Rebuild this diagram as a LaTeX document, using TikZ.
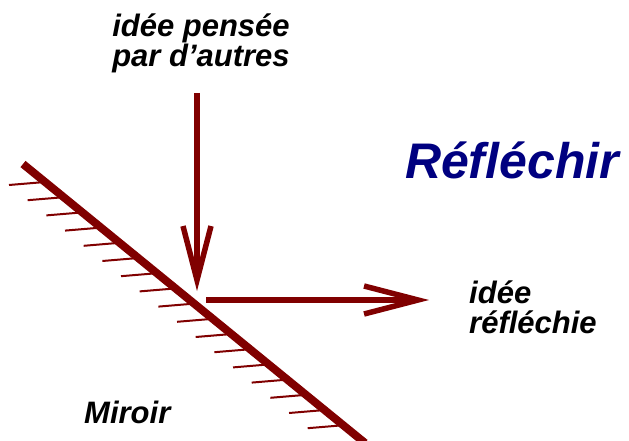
\documentclass[tikz,border=0pt]{standalone}
\usepackage{fontspec}
\setmainfont{Liberation Sans}
\usepackage{tikz}
\usetikzlibrary{arrows.meta}
\definecolor{mirrorred}{RGB}{128,0,0}
\definecolor{titleblue}{RGB}{0,0,128}

\begin{document}
\begin{tikzpicture}[x=1pt, y=-1pt, >={Straight Barb[length=54pt,width=28pt]},
  every node/.style={inner sep=0pt, font=\fontsize{31}{30}\selectfont\bfseries\itshape},
  mirror/.style={mirrorred, line width=8pt},
  hatch/.style={mirrorred, line width=2pt},
  ray/.style={->, mirrorred, line width=5.5pt}]
\path[use as bounding box] (0,0) rectangle (629,441);
% miroir et hachures
\coordinate (M1) at (23,164);
\coordinate (M2) at (365,443);
\foreach \i in {0,...,16}
  \draw[hatch] ({45+18.67*\i},{182+15.2*\i}) -- ++(-36,3);
\draw[mirror] (M1) -- (M2);
% textes (base = ligne du bas)
\node[anchor=base, align=center] (pensee) at (201,67) {idée pensée\\par d’autres};
\node[anchor=base, text=titleblue, font=\fontsize{50}{50}\selectfont\bfseries\itshape] (titre) at (512,178) {Réfléchir};
\node[anchor=base west, align=left] (reflechie) at (469,333) {idée\\réfléchie};
\node[anchor=base west] (miroir) at (84,423) {Miroir};
% rayons
\coordinate (in0) at (197,93);
\coordinate (in1) at (197,291);
\coordinate (out0) at (206,300);
\coordinate (out1) at (429,300);
\draw[ray] (in0) -- (in1);
\draw[ray] (out0) -- (out1);
\end{tikzpicture}
\end{document}
